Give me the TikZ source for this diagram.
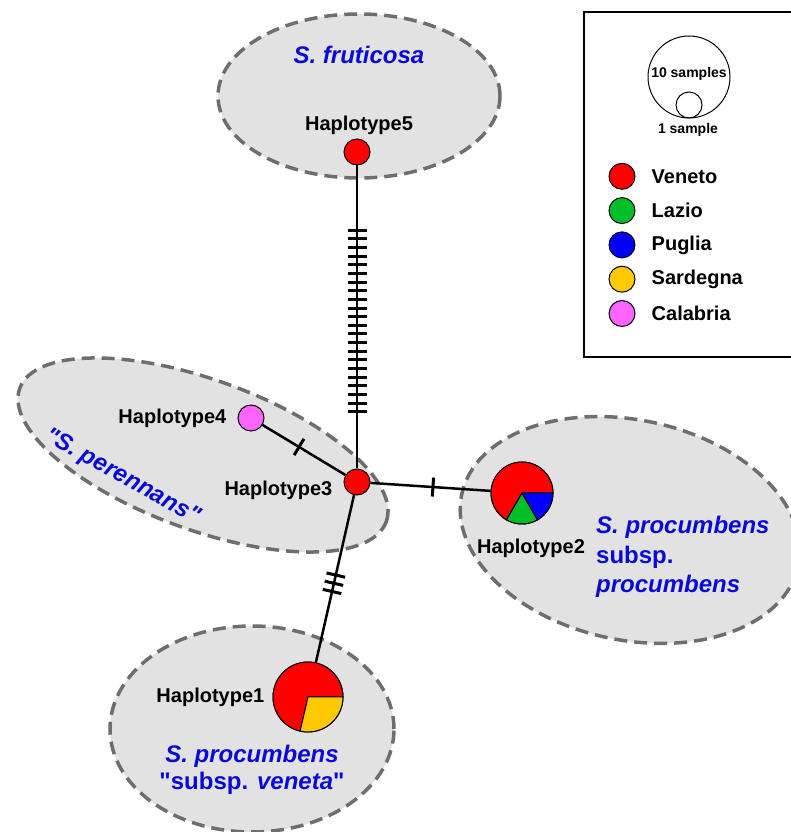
\documentclass[tikz,border=0pt]{standalone}
\usepackage{fontspec}
\setmainfont{Liberation Sans}
\newfontfamily\plainsans{Liberation Sans}
\usetikzlibrary{positioning}

\definecolor{vred}{RGB}{255,0,0}
\definecolor{lgreen}{RGB}{0,190,40}
\definecolor{pblue}{RGB}{0,0,255}
\definecolor{syellow}{RGB}{255,200,0}
\definecolor{cmagenta}{RGB}{255,100,255}
\definecolor{taxblue}{RGB}{10,10,215}
\definecolor{regionfill}{RGB}{226,226,226}
\definecolor{regionline}{RGB}{110,110,110}

\begin{document}
\begin{tikzpicture}[x=1pt, y=1pt,
    region/.style={fill=regionfill, draw=regionline, line width=3.5pt, dash pattern=on 13pt off 7pt},
    hap node/.style={circle, draw, line width=1pt, minimum size=26pt, inner sep=0pt},
    pie node/.style={circle, draw, line width=1pt, inner sep=0pt},
    hap label/.style={inner sep=0pt, font=\plainsans\fontsize{20}{24}\selectfont\bfseries},
    taxon/.style={inner sep=0pt, text=taxblue, font=\plainsans\fontsize{24}{28}\selectfont\bfseries},
    link/.style={line width=2.5pt},
    mutbar/.style={rectangle, sloped, fill=black, inner sep=0pt, minimum width=3pt, minimum height=19pt}]

  \useasboundingbox (0,0) rectangle (790,832);

  % groups
  \draw[region] (359,736) ellipse [x radius=141, y radius=82];
  \draw[region, rotate around={-20:(203,377)}] (203,377) ellipse [x radius=195, y radius=75];
  \draw[region, rotate around={-12:(630,302)}] (630,302) ellipse [x radius=172, y radius=110];
  \draw[region] (252,103) ellipse [x radius=142, y radius=103];

  % haplotypes
  \node[hap node, fill=vred] (h5) at (357,680) {};
  \node[hap node, fill=vred] (h3) at (357,350) {};
  \node[hap node, fill=cmagenta] (h4) at (251,414) {};
  \node[pie node, minimum size=62pt] (h2) at (522,339) {};
  \node[pie node, minimum size=70pt] (h1) at (308,135) {};

  % pie slices
  \filldraw[fill=vred, line width=1pt] (h2.center) -- ++(0:31) arc[start angle=0, end angle=240, radius=31] -- cycle;
  \filldraw[fill=lgreen, line width=1pt] (h2.center) -- ++(240:31) arc[start angle=240, end angle=300, radius=31] -- cycle;
  \filldraw[fill=pblue, line width=1pt] (h2.center) -- ++(300:31) arc[start angle=300, end angle=360, radius=31] -- cycle;
  \filldraw[fill=vred, line width=1pt] (h1.center) -- ++(0:35) arc[start angle=0, end angle=257, radius=35] -- cycle;
  \filldraw[fill=syellow, line width=1pt] (h1.center) -- ++(257:35) arc[start angle=257, end angle=360, radius=35] -- cycle;

  \node[hap label, above=4pt of h5, xshift=2pt] (l5) {Haplotype5};
  \node[hap label, left=11pt of h4] (l4) {Haplotype4};
  \node[hap label, left=11pt of h3, yshift=-8pt] (l3) {Haplotype3};
  \node[hap label, below=14pt of h2, xshift=9pt] (l2) {Haplotype2};
  \node[hap label, left=8pt of h1] (l1) {Haplotype1};

  \path[link] (h5) edge (h3)
        (h3) edge (h4)
        (h3) edge (h2)
        (h3) edge (h1);

  % mutation steps
  \foreach \i [evaluate=\i as \p using 0.214+0.0285*\i] in {0,...,21}
    \path (h5) -- (h3) node[mutbar, pos=\p] (m\i) {};
  \path (h4) -- (h3) node[mutbar, pos=0.44] (m43) {};
  \path (h3) -- (h2) node[mutbar, pos=0.52] (m32) {};
  \foreach \p [count=\k] in {0.478,0.527,0.576}
    \path (h3) -- (h1) node[mutbar, pos=\p] (n\k) {};

  % taxa
  \node[taxon] (fruticosa) at (359,777) {\itshape S. fruticosa};
  \node[taxon, rotate=-29] (perennans) at (122,355) {\itshape "S. perennans"};
  \node[taxon, align=left, anchor=west, font=\plainsans\fontsize{24}{29.5}\selectfont\bfseries] (procumbens) at (596,275)
    {\itshape S. procumbens\\\upshape subsp.\\\itshape procumbens};
  \node[taxon, align=center, font=\plainsans\fontsize{24}{27}\selectfont\bfseries] (veneta) at (252,62)
    {\itshape S. procumbens\\\upshape "subsp. \itshape veneta\upshape "};

  % legend
  \draw[line width=1.5pt] (584,475) rectangle (800,820);
  \node[circle, draw, line width=1pt, minimum size=82pt, inner sep=0pt] (ten) at (689,755) {};
  \node[circle, draw, line width=1pt, minimum size=26pt, inner sep=0pt] (one) at (689,727) {};
  \node[inner sep=0pt, font=\plainsans\fontsize{14}{16}\selectfont\bfseries] (tenlab) at (689,758) {10 samples};
  \node[inner sep=0pt, font=\plainsans\fontsize{14}{16}\selectfont\bfseries] (onelab) at (688,702) {1 sample};
  \foreach \col/\lab [count=\k] in {vred/Veneto, lgreen/Lazio, pblue/Puglia, syellow/Sardegna, cmagenta/Calabria} {
    \node[hap node, fill=\col] (key\k) at (622,690-34.3*\k) {};
    \node[hap label, right=16pt of key\k] (keylab\k) {\lab};
  }
\end{tikzpicture}
\end{document}
